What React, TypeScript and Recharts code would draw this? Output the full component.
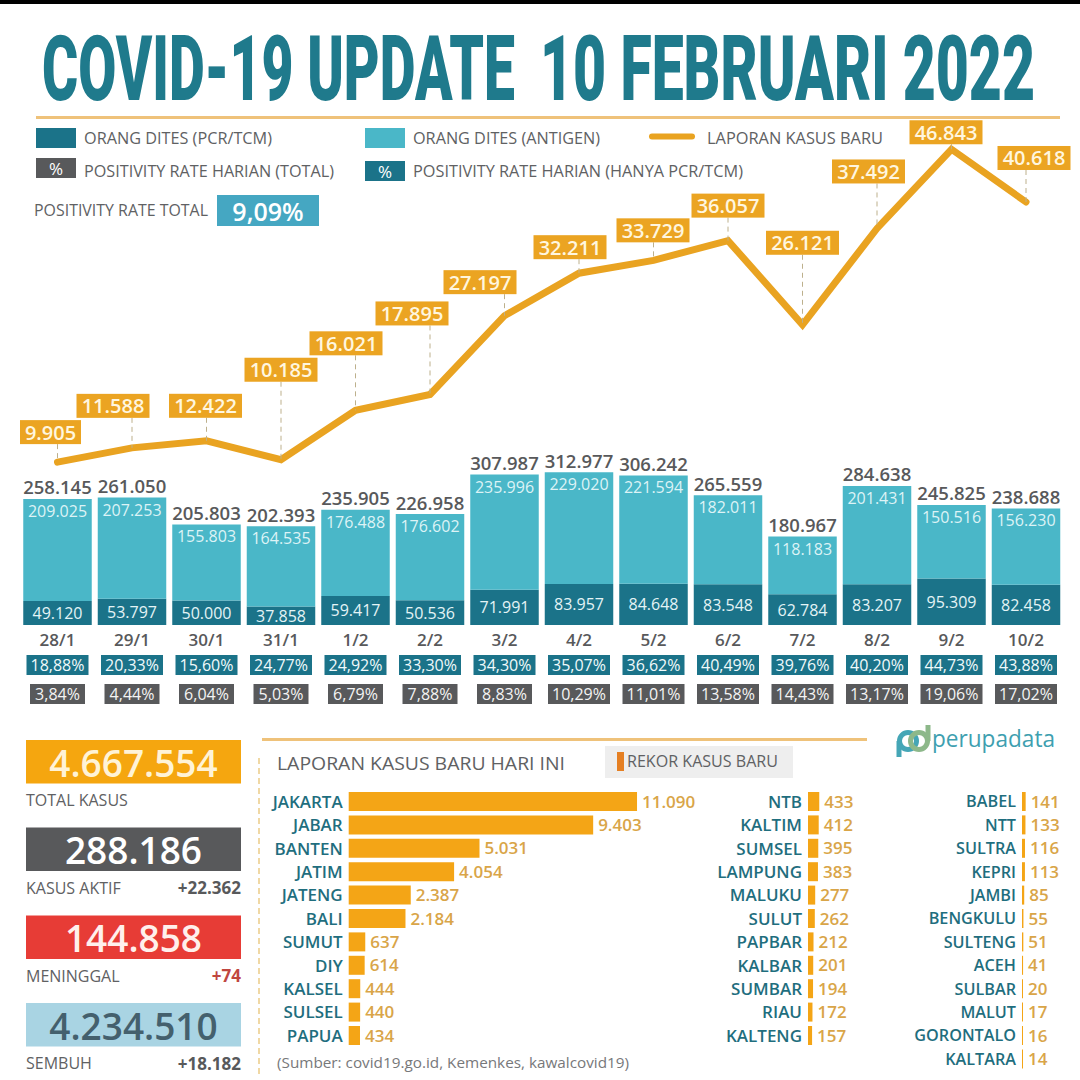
import { useLayoutEffect, useRef } from "react"
import { Bar, BarChart, ComposedChart, LabelList, Line, XAxis, YAxis } from "recharts"

const dates = ["28/1", "29/1", "30/1", "31/1", "1/2", "2/2", "3/2", "4/2", "5/2", "6/2", "7/2", "8/2", "9/2", "10/2"]
const pcrTests = [49120, 53797, 50000, 37858, 59417, 50536, 71991, 83957, 84648, 83548, 62784, 83207, 95309, 82458]
const antigenTests = [209025, 207253, 155803, 164535, 176488, 176602, 235996, 229020, 221594, 182011, 118183, 201431, 150516, 156230]
const totalTests = [258145, 261050, 205803, 202393, 235905, 226958, 307987, 312977, 306242, 265559, 180967, 284638, 245825, 238688]
const newCases = [9905, 11588, 12422, 10185, 16021, 17895, 27197, 32211, 33729, 36057, 26121, 37492, 46843, 40618]
const ratePcr = ["18,88%", "20,33%", "15,60%", "24,77%", "24,92%", "33,30%", "34,30%", "35,07%", "36,62%", "40,49%", "39,76%", "40,20%", "44,73%", "43,88%"]
const rateTotal = ["3,84%", "4,44%", "6,04%", "5,03%", "6,79%", "7,88%", "8,83%", "10,29%", "11,01%", "13,58%", "14,43%", "13,17%", "19,06%", "17,02%"]

const provincesA = ["JAKARTA", "JABAR", "BANTEN", "JATIM", "JATENG", "BALI", "SUMUT", "DIY", "KALSEL", "SULSEL", "PAPUA"]
const casesA = [11090, 9403, 5031, 4054, 2387, 2184, 637, 614, 444, 440, 434]
const provincesB = ["NTB", "KALTIM", "SUMSEL", "LAMPUNG", "MALUKU", "SULUT", "PAPBAR", "KALBAR", "SUMBAR", "RIAU", "KALTENG"]
const casesB = [433, 412, 395, 383, 277, 262, 212, 201, 194, 172, 157]
const provincesC = ["BABEL", "NTT", "SULTRA", "KEPRI", "JAMBI", "BENGKULU", "SULTENG", "ACEH", "SULBAR", "MALUT", "GORONTALO", "KALTARA"]
const casesC = [141, 133, 116, 113, 85, 55, 51, 41, 20, 17, 16, 14]

// where each orange box sits relative to its line point
const boxOffsets = [
  [-7, -30], [-19, -42], [-1, -35], [0, -90], [-9.5, -67], [-18, -81], [-24.5, -33.5],
  [-9, -26], [-0.5, -30], [0, -35], [0, -82], [-8.5, -57], [-5.5, -17], [8, -44],
]

const TEAL = "#1B7389"
const CYAN = "#4AB7C8"
const GOLD = "#E9A321"
const GREY = "#58595B"
const TEXT = "#606163"
const FONT = "'Open Sans', sans-serif"
const PX_PER_CASE = 0.026
const ROW = 23.4

const fmt = (n: number) => String(n).replace(/\B(?=(\d{3})+$)/g, ".")

const dailyData = dates.map((date, i) => ({
  date,
  pcr: pcrTests[i],
  antigen: antigenTests[i],
  total: totalTests[i],
  cases: newCases[i],
}))

function Txt({ x, y, size, fill = TEXT, weight = 400, anchor = "start", len, children }: any) {
  return (
    <text
      x={x}
      y={y}
      fontSize={size}
      fill={fill}
      fontWeight={weight}
      fontFamily={FONT}
      textAnchor={anchor}
      dominantBaseline="central"
      textLength={len}
      lengthAdjust={len ? "spacingAndGlyphs" : undefined}
    >
      {children}
    </text>
  )
}

// no condensed face is installed, so squeeze a heavy one to the wanted width
function TitlePart({ x, width, children }: any) {
  const ref = useRef<SVGTextElement>(null)
  useLayoutEffect(() => {
    const el = ref.current
    if (!el) return
    el.setAttribute("transform", `translate(${x} 100) scale(${width / el.getComputedTextLength()} 1)`)
  }, [x, width])
  return (
    <text ref={ref} fontSize={90} fontWeight={900} fill="#1F7A8C" fontFamily="Roboto, sans-serif" transform={`translate(${x} 100) scale(0.6 1)`}>
      {children}
    </text>
  )
}

function CaseLabel(props: any) {
  const { x, y, value, index } = props
  const [dx, dy] = boxOffsets[index]
  const w = value < 10000 ? 61 : 73
  const cx = x + dx
  const cy = y + dy
  return (
    <g>
      <line x1={x} x2={x} y1={cy + 12} y2={y} stroke="#BDB08C" strokeWidth={1} strokeDasharray="5 4" />
      <rect x={cx - w / 2} y={cy - 12} width={w} height={24} fill="#EBA422" />
      <Txt x={cx} y={cy} size={20} weight={600} fill="#FFF6DF" anchor="middle">{fmt(value)}</Txt>
    </g>
  )
}

function TotalLabel(props: any) {
  const { x, y, width, value } = props
  return <Txt x={x + width / 2} y={y - 12} size={18.5} weight={600} fill={GREY} anchor="middle">{fmt(value)}</Txt>
}

function AntigenLabel(props: any) {
  const { x, y, width, value } = props
  return <Txt x={x + width / 2} y={y + 12} size={16} fill="#DDF3F6" anchor="middle">{fmt(value)}</Txt>
}

function PcrLabel(props: any) {
  const { x, y, width, height, value } = props
  return <Txt x={x + width / 2} y={y + height / 2} size={16} fill="#E4F4F6" anchor="middle">{fmt(value)}</Txt>
}

function DateTick(props: any) {
  const { x, index } = props
  const grey = rateTotal[index]
  const greyW = grey.length > 5 ? 62 : 55
  return (
    <g>
      <Txt x={x} y={639} size={17} weight={600} fill={GREY} anchor="middle">{dates[index]}</Txt>
      <rect x={x - 31} y={655} width={62} height={20} fill={TEAL} />
      <Txt x={x} y={665} size={16} weight={500} fill="#F1FAFB" anchor="middle">{ratePcr[index]}</Txt>
      <rect x={x - greyW / 2} y={684} width={greyW} height={20} fill={GREY} />
      <Txt x={x} y={694} size={16} weight={500} fill="#F4F4F4" anchor="middle">{grey}</Txt>
    </g>
  )
}

function DailyChart() {
  return (
    <ComposedChart
      width={1080}
      height={710}
      data={dailyData}
      margin={{ top: 100, right: 16.75, bottom: 0, left: 20.25 }}
      style={{ position: "absolute", left: 0, top: 0 }}
    >
      <XAxis dataKey="date" interval={0} height={85} axisLine={false} tickLine={false} tick={<DateTick />} />
      <YAxis yAxisId="tests" hide domain={[0, 1075000]} />
      <YAxis yAxisId="cases" hide domain={[-9327, 52660]} />
      <Bar yAxisId="tests" dataKey="pcr" stackId="tests" fill={TEAL} barSize={68.5} isAnimationActive={false}>
        <LabelList dataKey="pcr" content={<PcrLabel />} />
      </Bar>
      <Bar yAxisId="tests" dataKey="antigen" stackId="tests" fill={CYAN} barSize={68.5} isAnimationActive={false}>
        <LabelList dataKey="antigen" content={<AntigenLabel />} />
        <LabelList dataKey="total" content={<TotalLabel />} />
      </Bar>
      <Line
        yAxisId="cases"
        dataKey="cases"
        type="linear"
        stroke={GOLD}
        strokeWidth={7}
        strokeLinecap="round"
        strokeLinejoin="miter"
        dot={false}
        isAnimationActive={false}
        label={<CaseLabel />}
      />
    </ComposedChart>
  )
}

function ProvinceChart({ names, values, left, top, axisWidth, plotWidth, nameSize = 17 }: any) {
  const data = names.map((name: string, i: number) => ({ name, value: values[i] }))
  return (
    <BarChart
      layout="vertical"
      width={axisWidth + plotWidth}
      height={names.length * ROW}
      data={data}
      margin={{ top: 0, right: 0, bottom: 0, left: 0 }}
      style={{ position: "absolute", left, top }}
    >
      <XAxis type="number" hide domain={[0, plotWidth / PX_PER_CASE]} />
      <YAxis
        type="category"
        dataKey="name"
        width={axisWidth}
        interval={0}
        axisLine={false}
        tickLine={false}
        tickSize={0}
        tickMargin={6}
        tick={{ fill: "#1F6E7E", fontSize: nameSize, fontWeight: 600, fontFamily: FONT }}
      />
      <Bar dataKey="value" fill="#F4A516" barSize={19} minPointSize={1} isAnimationActive={false}>
        <LabelList
          dataKey="value"
          position="right"
          offset={5}
          formatter={(v: any) => fmt(v)}
          style={{ fill: "#D9A548", fontSize: 17, fontWeight: 600, fontFamily: FONT }}
        />
      </Bar>
    </BarChart>
  )
}

function Card({ y, fill, value, valueFill, name, delta, deltaFill = GREY }: any) {
  return (
    <g>
      <rect x={26} y={y} width={215} height={43.5} fill={fill} />
      <Txt x={133.5} y={y + 22} size={37} weight={600} fill={valueFill} anchor="middle">{value}</Txt>
      <Txt x={26} y={y + 60} size={16}>{name}</Txt>
      {delta && <Txt x={241} y={y + 60} size={17} weight={700} fill={deltaFill} anchor="end">{delta}</Txt>}
    </g>
  )
}

function Backdrop() {
  return (
    <svg width={1080} height={1080} style={{ position: "absolute", left: 0, top: 0 }}>
      <rect width={1080} height={1080} fill="#fff" />
      <rect width={1080} height={4} fill="#000" />

      <TitlePart x={42} width={473}>COVID-19 UPDATE</TitlePart>
      <TitlePart x={540} width={495}>10 FEBRUARI 2022</TitlePart>
      <rect x={36} y={116} width={1024} height={3} fill="#EFC27A" />

      <rect x={36} y={128} width={40} height={20} fill={TEAL} />
      <Txt x={84} y={137.5} size={15.5} len={188}>ORANG DITES (PCR/TCM)</Txt>
      <rect x={365} y={128} width={40} height={20} fill={CYAN} />
      <Txt x={413} y={137.5} size={15.5} len={187}>ORANG DITES (ANTIGEN)</Txt>
      <line x1={652} x2={692} y1={136.5} y2={136.5} stroke={GOLD} strokeWidth={6} strokeLinecap="round" />
      <Txt x={707} y={137.5} size={15.5} len={176}>LAPORAN KASUS BARU</Txt>

      <rect x={36} y={158} width={40} height={20} fill={GREY} />
      <Txt x={56} y={168} size={17} fill="#fff" anchor="middle">%</Txt>
      <Txt x={84} y={170.5} size={15.5} len={250}>POSITIVITY RATE HARIAN (TOTAL)</Txt>
      <rect x={365} y={161} width={40} height={20} fill={TEAL} />
      <Txt x={385} y={171} size={17} fill="#fff" anchor="middle">%</Txt>
      <Txt x={413} y={170.5} size={15.5} len={330}>POSITIVITY RATE HARIAN (HANYA PCR/TCM)</Txt>

      <Txt x={34} y={209.5} size={15.5} len={174}>POSITIVITY RATE TOTAL</Txt>
      <rect x={217} y={195} width={102} height={31} fill="#45A7C2" />
      <Txt x={268} y={210.5} size={25} weight={600} fill="#fff" anchor="middle">9,09%</Txt>

      <Card y={740} fill="#F5A60F" value="4.667.554" valueFill="#FFF3D6" name="TOTAL KASUS" />
      <Card y={827.5} fill={GREY} value="288.186" valueFill="#fff" name="KASUS AKTIF" delta="+22.362" />
      <Card y={915.5} fill="#E73C36" value="144.858" valueFill="#FFF0EC" name="MENINGGAL" delta="+74" deltaFill="#C0463F" />
      <Card y={1003} fill="#A9D4E3" value="4.234.510" valueFill="#44606D" name="SEMBUH" delta="+18.182" />

      <rect x={262} y={738} width={605} height={3} fill="#EFC27A" />
      <line x1={259} x2={259} y1={758} y2={1076} stroke="#EBCB86" strokeWidth={1.5} strokeDasharray="6 4" />
      <Txt x={277} y={763} size={18} len={288}>LAPORAN KASUS BARU HARI INI</Txt>
      <rect x={605} y={746} width={188} height={32} fill="#EEEEEE" />
      <rect x={617} y={752} width={7} height={19} fill="#E57F22" />
      <Txt x={627} y={761} size={15.5} len={151}>REKOR KASUS BARU</Txt>
      <Txt x={277} y={1062} size={14.5} fill="#77787A" len={352}>(Sumber: covid19.go.id, Kemenkes, kawalcovid19)</Txt>

      <circle cx={908} cy={741} r={8.5} fill="none" stroke="#45A6B6" strokeWidth={5} />
      <circle cx={919} cy={741} r={8.5} fill="none" stroke="#8DB88A" strokeWidth={5} />
      <line x1={899} x2={899} y1={741} y2={757} stroke="#45A6B6" strokeWidth={5} />
      <line x1={928} x2={928} y1={725} y2={741} stroke="#8DB88A" strokeWidth={5} />
      <Txt x={932} y={737} size={24} weight={500} fill="#3E9FB0" len={123}>perupadata</Txt>
    </svg>
  )
}

export default function App() {
  return (
    <div style={{ position: "absolute", left: 0, top: 0, width: 1080, height: 1080, overflow: "hidden" }}>
      <Backdrop />
      <DailyChart />
      <ProvinceChart names={provincesA} values={casesA} left={268} top={790.3} axisWidth={80.7} plotWidth={400} />
      <ProvinceChart names={provincesB} values={casesB} left={700} top={790.3} axisWidth={108} plotWidth={92} />
      <ProvinceChart names={provincesC} values={casesC} left={900} top={790.3} axisWidth={122} plotWidth={58} nameSize={16.2} />
    </div>
  )
}
